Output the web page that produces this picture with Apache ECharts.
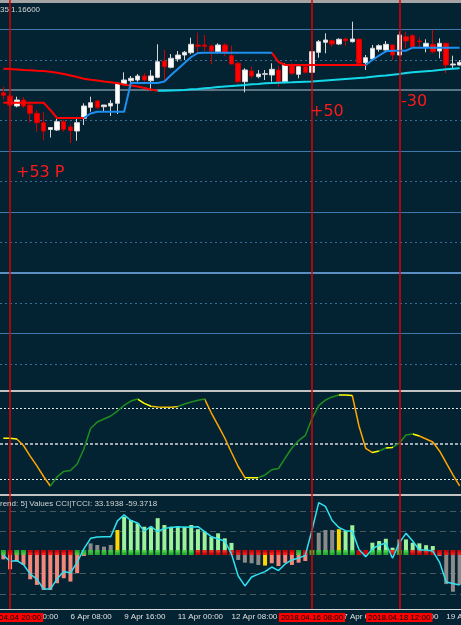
<!DOCTYPE html>
<html><head><meta charset="utf-8">
<script src="https://cdn.jsdelivr.net/npm/echarts@6/dist/echarts.min.js"></script>
<style>html,body{margin:0;padding:0;background:#032332;}#c{width:461px;height:625px;}</style>
</head><body><div id="c"></div>
<script>
// ---------- DATA ----------
// H4 bars from 2018.04.04 16:00 (weekends skipped)
const barStartUTC = Date.UTC(2018, 3, 4, 16, 0);
const barCount = 69;

const opens = [1.19373,1.19340,1.19240,1.19300,1.19250,1.19167,1.19073,1.19005,1.19000,1.19083,
  1.19030,1.18990,1.19117,1.19227,1.19290,1.19233,1.19240,1.19267,1.19467,1.19493,
  1.19500,1.19540,1.19493,1.19527,1.19690,1.19627,1.19710,1.19750,1.19773,1.19850,
  1.19850,1.19840,1.19783,1.19850,1.19743,1.19667,1.19483,1.19590,1.19533,1.19557,
  1.19550,1.19600,1.19483,1.19650,1.19557,1.19633,1.19577,1.19777,1.19877,1.19893,
  1.19860,1.19910,1.19883,1.19907,1.19673,1.19710,1.19807,1.19800,1.19850,1.19750,
  1.19933,1.19943,1.19890,1.19833,1.19857,1.19790,1.19867,1.19650,1.19650];
const closes = [1.19347,1.19250,1.19300,1.19240,1.19167,1.19073,1.18990,1.19025,1.19083,1.19007,
  1.18995,1.19073,1.19240,1.19273,1.19227,1.19250,1.19267,1.19467,1.19500,1.19517,
  1.19540,1.19500,1.19540,1.19683,1.19633,1.19717,1.19750,1.19777,1.19857,1.19837,
  1.19837,1.19790,1.19850,1.19767,1.19660,1.19483,1.19600,1.19540,1.19560,1.19563,
  1.19607,1.19483,1.19650,1.19567,1.19633,1.19577,1.19783,1.19883,1.19900,1.19860,
  1.19907,1.19893,1.19910,1.19667,1.19723,1.19817,1.19843,1.19857,1.19750,1.19950,
  1.19890,1.19833,1.19883,1.19867,1.19783,1.19867,1.19650,1.19660,1.19677];
const lows = [1.19307,1.19227,1.19227,1.19220,1.19073,1.18983,1.18895,1.18925,1.18990,1.18983,
  1.18870,1.18893,1.19050,1.19183,1.19210,1.19183,1.19140,1.19160,1.19450,1.19467,
  1.19483,1.19467,1.19400,1.19517,1.19500,1.19617,1.19683,1.19700,1.19757,1.19760,
  1.19790,1.19657,1.19767,1.19740,1.19657,1.19467,1.19377,1.19517,1.19517,1.19500,
  1.19483,1.19433,1.19467,1.19550,1.19517,1.19567,1.19570,1.19723,1.19767,1.19833,
  1.19850,1.19843,1.19875,1.19657,1.19600,1.19700,1.19783,1.19777,1.19700,1.19743,
  1.19817,1.19817,1.19817,1.19777,1.19767,1.19717,1.19567,1.19617,1.19645];
const highs = [1.19433,1.19360,1.19333,1.19330,1.19267,1.19200,1.19180,1.19030,1.19110,1.19100,
  1.19055,1.19117,1.19267,1.19333,1.19300,1.19250,1.19300,1.19473,1.19577,1.19540,
  1.19560,1.19567,1.19600,1.19857,1.19800,1.19760,1.19790,1.19790,1.19923,1.19975,
  1.19950,1.19857,1.19867,1.19867,1.19843,1.19683,1.19617,1.19633,1.19600,1.19600,
  1.19667,1.19643,1.19667,1.19667,1.19650,1.19650,1.19790,1.19900,1.19967,1.19905,
  1.19917,1.19923,1.20083,1.19917,1.19750,1.19850,1.19857,1.19890,1.19857,1.19983,
  1.19983,1.19957,1.19923,1.19907,1.20000,1.19917,1.19873,1.19743,1.19700];

// slow moving average (red while falling, cyan while rising)
const maValues = [1.19613,1.19610,1.19605,1.19600,1.19597,1.19593,1.19590,1.19583,1.19573,1.19560,
  1.19545,1.19530,1.19513,1.19503,1.19495,1.19485,1.19477,1.19467,1.19453,1.19445,
  1.19435,1.19420,1.19405,1.19393,1.19393,1.19395,1.19397,1.19400,1.19407,1.19410,
  1.19417,1.19423,1.19430,1.19435,1.19440,1.19445,1.19450,1.19457,1.19460,1.19467,
  1.19470,1.19473,1.19475,1.19477,1.19480,1.19483,1.19485,1.19490,1.19495,1.19500,
  1.19505,1.19510,1.19515,1.19520,1.19525,1.19533,1.19540,1.19545,1.19553,1.19560,
  1.19570,1.19577,1.19582,1.19587,1.19592,1.19600,1.19607,1.19613,1.19617];
const maTurnIndex = 23;

// trailing stop line (red = down, blue = up)
const trailValues = [1.19273,1.19273,1.19273,1.19273,1.19273,1.19273,1.19273,1.19200,1.19120,1.19120,
  1.19120,1.19120,1.19120,1.19165,1.19183,1.19183,1.19183,1.19183,1.19183,1.19470,
  1.19470,1.19470,1.19470,1.19470,1.19485,1.19550,1.19610,1.19670,1.19730,1.19770,
  1.19773,1.19773,1.19773,1.19773,1.19773,1.19773,1.19773,1.19773,1.19773,1.19773,
  1.19773,1.19680,1.19650,1.19650,1.19650,1.19650,1.19650,1.19650,1.19650,1.19650,
  1.19650,1.19650,1.19650,1.19650,1.19650,1.19700,1.19745,1.19787,1.19793,1.19793,
  1.19793,1.19823,1.19823,1.19823,1.19823,1.19823,1.19823,1.19823,1.19823];
const trailRuns = [[0, 12, 'down'], [12, 40, 'up'], [40, 54, 'down'], [54, 68, 'up']];

// price grid levels
const priceLevels = [1.20006,1.19702,1.19398,1.19094,1.18790,1.18486,1.18182,1.17878,1.17574,1.17270,1.16966,1.16662];
const priceLevelKinds = ['solid','dot','heavy','dot','solid','dot','solid','dot','bright','dot','solid','dot'];

// oscillator (middle window)
const oscValues = [53.7,53.7,53.2,48.6,41.1,34.1,26.6,19.9,26.3,30.2,
  30.9,35.5,46.1,60.6,65.2,67.4,69.5,73.0,77.1,80.1,
  81.5,78.4,76.4,75.9,75.7,75.7,76.2,78.0,79.4,80.6,
  81.5,71.6,62.8,53.9,43.6,33.7,25.8,25.8,25.8,27.7,
  31.4,32.3,39.7,46.8,52.1,55.7,67.7,76.9,80.8,83.0,
  84.4,84.4,84.0,62.4,46.6,43.6,44.7,46.8,47.2,50.2,
  56.0,56.7,55.3,53.2,51.1,44.7,36.2,27.7,19.9];
const oscColorRuns = [[0,2,'flat'],[2,7,'down'],[7,20,'up'],[20,22,'flat'],[22,26,'flat2'],[26,30,'up'],
  [30,36,'down'],[36,38,'flat'],[38,50,'up'],[50,52,'flat'],[52,55,'down'],[55,56,'flat'],[56,57,'up'],
  [57,58,'flat'],[58,61,'up'],[61,62,'flat'],[62,68,'down']];
const oscLevels = [75, 50, 25];

// CCI window
const cciHist = [-33,-81,-44,-60,-129,-156,-180,-180,-148,-124,
  -140,-100,-17,44,36,28,36,108,172,156,
  140,124,124,165,132,124,124,124,132,112,
  100,76,92,68,46,-36,-49,-52,-60,-63,
  -52,-65,-50,-60,-49,-41,7,95,108,108,
  112,103,131,0,0,47,55,66,23,63,
  63,47,44,35,31,-17,-152,-189,-156];
const cciHistKinds = ['neg','neg','neg','neg','neg','neg','neg','neg','neg','neg',
  'neg','neg','neg','flat','flat','flat','flat','warn','pos','pos',
  'pos','pos','pos','pos','pos','pos','pos','pos','pos','pos',
  'pos','pos','pos','pos','pos','flat','flat','flat','flat','warn',
  'neg','neg','neg','neg','neg','neg','flat','flat','flat','flat',
  'warn','pos','pos','neg','neg','pos','pos','pos','pos','flat',
  'pos','pos','pos','pos','pos','flat','flat','flat','flat'];
const trendDots = ['up','dn','up','up','dn','dn','dn','dn','dn','dn',
  'dn','up','up','up','up','up','up','up','up','up',
  'up','up','up','up','up','up','up','up','up','dn',
  'dn','dn','dn','dn','dn','dn','dn','dn','dn','dn',
  'dn','dn','dn','dn','up','dn','up','up','up','up',
  'up','up','up','dn','dn','up','up','up','dn','up',
  'up','dn','dn','dn','dn','dn','dn','dn','dn'];
const tcciValues = [-12,-43,-39,-58,-104,-128,-176,-176,-128,-92,
  -99,-46,17,68,75,76,76,152,181,154,
  142,104,124,101,116,120,124,121,123,124,
  100,76,65,55,-7,-113,-161,-118,-104,-92,
  -70,-87,-55,-36,-27,-14,108,240,222,154,
  120,105,102,14,-20,17,36,44,-28,46,
  92,55,12,12,7,-46,-142,-149,-156];
const cciLevels = [200, 100, -100, -200];

// time axis
const timeLabelIdx = [2, 10, 18, 26, 34, 42, 50, 58, 66];
const markedBarIdx = [1, 46, 59];

// ---------- BUILD ----------
const MONTHS = ['Jan','Feb','Mar','Apr','May','Jun','Jul','Aug','Sep','Oct','Nov','Dec'];
const pad2 = n => (n < 10 ? '0' : '') + n;
const barTimes = [];
for (let t = barStartUTC; barTimes.length < barCount; t += 4 * 3600e3) {
  const d = new Date(t), wd = d.getUTCDay();
  if (wd !== 0 && wd !== 6) barTimes.push(d);
}
const categories = barTimes.map(d => d.getUTCFullYear() + '.' + pad2(d.getUTCMonth() + 1) + '.' + pad2(d.getUTCDate()) + ' ' + pad2(d.getUTCHours()) + ':00');
const shortLabels = barTimes.map(d => d.getUTCDate() + ' ' + MONTHS[d.getUTCMonth()] + ' ' + pad2(d.getUTCHours()) + ':00');

const candleData = opens.map((o, i) => [o, closes[i], lows[i], highs[i]]);
const inRuns = (i, kind) => trailRuns.some(([a, b, k]) => k === kind && i >= a && i <= b);

const gridStyles = {
  solid: {color: '#3f78ad', width: 1, type: 'solid'},
  heavy: {color: '#587485', width: 2, type: 'solid'},
  bright: {color: '#5a8fc4', width: 2, type: 'solid'},
  dot: {color: '#3a6d98', width: 1, type: [2, 3]}
};
const oscPalette = {up: '#1f8c1f', down: '#ffa500', flat: '#ffff00', flat2: '#e6b800'};
const histPalette = {neg: '#f4877a', pos: '#9cf39c', flat: '#8a8a8a', warn: '#ffd700'};
const dotPalette = {up: '#33cc33', dn: '#ff0000'};
const FONT = '"Liberation Sans", Arial, sans-serif';

const oscPieces = oscColorRuns.map(([a, b, k], j) =>
  j === oscColorRuns.length - 1 ? {gte: a, lte: b, color: oscPalette[k]} : {gte: a, lt: b, color: oscPalette[k]});

const catAxis = (grid, extra) => Object.assign({
  type: 'category', gridIndex: grid, data: categories, boundaryGap: true,
  axisLine: {show: false, onZero: false}, axisTick: {show: false}, axisLabel: {show: false},
  splitLine: {show: false}
}, extra || {});

const gridBase = {left: 0, width: 463, containLabel: false, outerBoundsMode: 'none'};

const option = {
  backgroundColor: '#032332',
  animation: false,
  grid: [
    Object.assign({top: 0, height: 391}, gridBase),
    Object.assign({top: 392, height: 103}, gridBase),
    Object.assign({top: 497, height: 112}, gridBase),
    Object.assign({top: 0, height: 609}, gridBase)
  ],
  xAxis: [
    catAxis(0, {axisLine: {show: true, onZero: false, lineStyle: {color: '#c2c2c2', width: 2}}}),
    catAxis(0, {position: 'top', axisLine: {show: true, onZero: false, lineStyle: {color: '#a4a4a4', width: 5}}}),
    catAxis(1, {axisLine: {show: true, onZero: false, lineStyle: {color: '#c2c2c2', width: 2}}}),
    catAxis(2, {
      axisLine: {show: true, onZero: false, lineStyle: {color: '#d8d8d8', width: 1}},
      axisLabel: {show: true, interval: i => timeLabelIdx.includes(i), formatter: (v, i) => shortLabels[i],
        align: 'left', color: '#e0e0e0', fontSize: 8, fontFamily: FONT, margin: 4, hideOverlap: false}
    }),
    catAxis(3)
  ],
  yAxis: [
    {type: 'value', gridIndex: 0, min: 1.1639, max: 1.2030, show: false},
    {type: 'value', gridIndex: 1, min: 13.5, max: 86.5, show: false},
    {type: 'value', gridIndex: 2, min: -272, max: 267, show: false},
    {type: 'value', gridIndex: 3, min: 0, max: 1, show: false}
  ],
  visualMap: [{
    type: 'piecewise', show: false, dimension: 0, seriesIndex: 5, pieces: oscPieces
  }],
  series: [
    { // 0 candles
      type: 'candlestick', xAxisIndex: 0, yAxisIndex: 0, barWidth: 5, data: candleData,
      itemStyle: {color: '#ffffff', color0: '#ff0000', borderColor: '#d6d6d6', borderColor0: '#d00000', borderWidth: 1},
      markLine: {silent: true, symbol: 'none', z: 1, precision: 5, label: {show: false},
        data: priceLevels.map((p, k) => ({yAxis: p, lineStyle: gridStyles[priceLevelKinds[k]]}))}
    },
    { // 1 MA falling
      type: 'line', xAxisIndex: 0, yAxisIndex: 0, showSymbol: false, z: 3,
      data: maValues.map((v, i) => i <= maTurnIndex ? v : null),
      lineStyle: {color: '#ff0000', width: 2}
    },
    { // 2 MA rising
      type: 'line', xAxisIndex: 0, yAxisIndex: 0, showSymbol: false, z: 3,
      data: maValues.map((v, i) => i >= maTurnIndex ? v : null),
      lineStyle: {color: '#14d8ea', width: 2}
    },
    { // 3 trail down
      type: 'line', xAxisIndex: 0, yAxisIndex: 0, showSymbol: false, z: 3,
      data: trailValues.map((v, i) => inRuns(i, 'down') ? v : null),
      lineStyle: {color: '#ff0000', width: 2}
    },
    { // 4 trail up
      type: 'line', xAxisIndex: 0, yAxisIndex: 0, showSymbol: false, z: 3,
      data: trailValues.map((v, i) => inRuns(i, 'up') ? v : null),
      lineStyle: {color: '#1e8ff0', width: 2}
    },
    { // 5 oscillator
      type: 'line', xAxisIndex: 2, yAxisIndex: 1, showSymbol: false, data: oscValues,
      lineStyle: {width: 1.5},
      markLine: {silent: true, symbol: 'none', z: 1, label: {show: false},
        data: oscLevels.map(v => ({yAxis: v, lineStyle: v === 50
          ? {color: '#a3acb2', width: 2, type: [3, 2]}
          : {color: '#e6e6e6', width: 1, type: [2, 2]}}))}
    },
    { // 6 CCI histogram
      type: 'bar', xAxisIndex: 3, yAxisIndex: 2, barWidth: 4,
      data: cciHist.map((v, i) => ({value: v, itemStyle: {color: histPalette[cciHistKinds[i]]}})),
      markLine: {silent: true, symbol: 'none', z: 1, label: {show: false},
        lineStyle: {color: '#47585f', width: 1, type: [6, 4]},
        data: cciLevels.map(v => ({yAxis: v}))}
    },
    { // 7 trend dots
      type: 'scatter', xAxisIndex: 3, yAxisIndex: 2, symbol: 'rect', symbolSize: [5, 5], z: 4,
      data: trendDots.map((k, i) => ({value: [i, 0], itemStyle: {color: dotPalette[k]}}))
    },
    { // 8 TCCI line
      type: 'line', xAxisIndex: 3, yAxisIndex: 2, showSymbol: false, z: 5, data: tcciValues,
      lineStyle: {color: '#2fe2f2', width: 1.5}
    },
    { // 9 vertical markers
      type: 'scatter', xAxisIndex: 4, yAxisIndex: 3, symbolSize: 0, data: [[0, -1]],
      markLine: {silent: true, symbol: 'none', z: 6,
        lineStyle: {color: '#e00000', width: 1.5, type: 'solid'},
        label: {show: true, position: 'start', distance: 4, formatter: '{b}',
          backgroundColor: '#ff0000', color: '#000000', fontSize: 8, fontFamily: FONT, padding: [1, 2, 0, 2]},
        data: markedBarIdx.map(i => ({xAxis: categories[i], name: categories[i]}))}
    }
  ],
  graphic: [
    {type: 'text', x: 0, y: 6, z: 20, silent: true,
      style: {text: '35 1.16600', fill: '#d4d4d4', font: '8px ' + FONT, verticalAlign: 'top'}},
    {type: 'text', x: 0, y: 500, z: 20, silent: true,
      style: {text: 'rend: 5] Values CCI|TCCI: 33.1938 -59.3718', fill: '#d4d4d4', font: '8px ' + FONT, verticalAlign: 'top'}},
    {type: 'text', x: 16, y: 165, z: 20, silent: true,
      style: {text: '+53 P', fill: '#ff1a1a', font: '16px "DejaVu Sans"', verticalAlign: 'top'}},
    {type: 'text', x: 310, y: 104, z: 20, silent: true,
      style: {text: '+50', fill: '#ff1a1a', font: '16px "DejaVu Sans"', verticalAlign: 'top'}},
    {type: 'text', x: 401, y: 94, z: 20, silent: true,
      style: {text: '-30', fill: '#ff1a1a', font: '16px "DejaVu Sans"', verticalAlign: 'top'}}
  ]
};

const chart = echarts.init(document.getElementById('c'), null, {renderer: 'canvas', width: 461, height: 625});
chart.setOption(option);
</script></body></html>
